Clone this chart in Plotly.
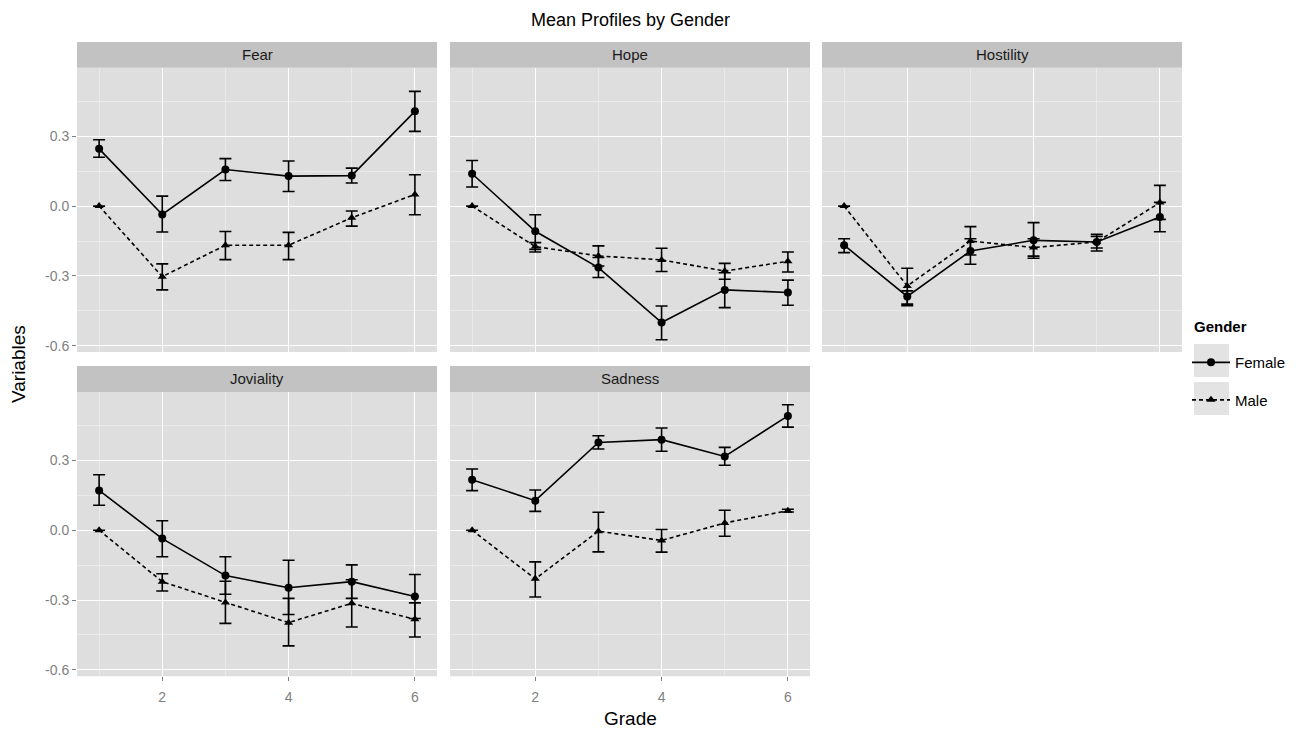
import plotly.graph_objects as go

W, H = 1296, 733
OFF = 8  # page body margin in the browser

grades = [1, 2, 3, 4, 5, 6]
panels = ["Fear", "Hope", "Hostility", "Joviality", "Sadness"]

fear_f = [0.246, -0.036, 0.157, 0.129, 0.131, 0.407]
fear_f_hi = [0.285, 0.043, 0.204, 0.194, 0.163, 0.493]
fear_f_lo = [0.210, -0.111, 0.110, 0.063, 0.099, 0.321]
fear_m = [0.0, -0.303, -0.168, -0.168, -0.050, 0.050]
fear_m_hi = [0.0, -0.248, -0.109, -0.113, -0.021, 0.135]
fear_m_lo = [0.0, -0.360, -0.230, -0.230, -0.086, -0.037]

hope_f = [0.139, -0.108, -0.264, -0.500, -0.360, -0.371]
hope_f_hi = [0.196, -0.037, -0.221, -0.429, -0.286, -0.318]
hope_f_lo = [0.082, -0.186, -0.307, -0.574, -0.436, -0.426]
hope_m = [0.0, -0.174, -0.214, -0.231, -0.279, -0.237]
hope_m_hi = [0.0, -0.157, -0.171, -0.181, -0.246, -0.197]
hope_m_lo = [0.0, -0.197, -0.257, -0.281, -0.314, -0.283]

host_f = [-0.168, -0.388, -0.193, -0.147, -0.154, -0.047]
host_f_hi = [-0.140, -0.364, -0.140, -0.071, -0.121, 0.016]
host_f_lo = [-0.200, -0.428, -0.250, -0.224, -0.193, -0.110]
host_m = [0.0, -0.343, -0.150, -0.178, -0.154, 0.015]
host_m_hi = [0.0, -0.267, -0.088, -0.140, -0.130, 0.089]
host_m_lo = [0.0, -0.421, -0.210, -0.215, -0.180, -0.057]

jov_f = [0.171, -0.036, -0.195, -0.247, -0.221, -0.285]
jov_f_hi = [0.238, 0.041, -0.114, -0.129, -0.149, -0.190]
jov_f_lo = [0.107, -0.114, -0.275, -0.362, -0.293, -0.379]
jov_m = [0.0, -0.221, -0.310, -0.397, -0.314, -0.383]
jov_m_hi = [0.0, -0.187, -0.219, -0.293, -0.213, -0.312]
jov_m_lo = [0.0, -0.261, -0.400, -0.497, -0.416, -0.459]

sad_f = [0.217, 0.127, 0.377, 0.389, 0.317, 0.491]
sad_f_hi = [0.263, 0.173, 0.406, 0.439, 0.356, 0.539]
sad_f_lo = [0.170, 0.081, 0.349, 0.339, 0.279, 0.443]
sad_m = [0.0, -0.209, -0.004, -0.044, 0.031, 0.084]
sad_m_hi = [0.0, -0.136, 0.077, 0.003, 0.086, 0.090]
sad_m_lo = [0.0, -0.287, -0.093, -0.094, -0.026, 0.078]

y_ticks = [-0.6, -0.3, 0.0, 0.3]
y_tick_text = ["-0.6", "-0.3", "0.0", "0.3"]
y_minor = [-0.45, -0.15, 0.15, 0.45]
x_ticks = [2, 4, 6]
x_minor = [1, 3, 5]

data = {
    "Fear": ((fear_f, fear_f_hi, fear_f_lo), (fear_m, fear_m_hi, fear_m_lo)),
    "Hope": ((hope_f, hope_f_hi, hope_f_lo), (hope_m, hope_m_hi, hope_m_lo)),
    "Hostility": ((host_f, host_f_hi, host_f_lo), (host_m, host_m_hi, host_m_lo)),
    "Joviality": ((jov_f, jov_f_hi, jov_f_lo), (jov_m, jov_m_hi, jov_m_lo)),
    "Sadness": ((sad_f, sad_f_hi, sad_f_lo), (sad_m, sad_m_hi, sad_m_lo)),
}


def px(X):
    return (X - OFF) / W


def py(Y):
    return 1 - (Y - OFF) / H


cols_px = [(77, 437), (450, 810), (822, 1182)]
rows_px = [(68, 353), (393, 678)]   # panel top, bottom
strip_h = 26

FONT = "Liberation Sans, Arial, sans-serif"
BG = "#DEDEDE"
STRIP = "#C2C2C2"
TICKC = "#7F7F7F"

fig = go.Figure()
shapes = []
annotations = []
layout_axes = {}

for i, name in enumerate(panels):
    r, c = divmod(i, 3)
    x0, x1 = cols_px[c]
    t, b = rows_px[r]
    idx = i + 1
    xa = "x" if idx == 1 else f"x{idx}"
    ya = "y" if idx == 1 else f"y{idx}"
    xk = "xaxis" if idx == 1 else f"xaxis{idx}"
    yk = "yaxis" if idx == 1 else f"yaxis{idx}"
    show_x = r == 1
    show_y = c == 0
    layout_axes[xk] = dict(
        domain=[px(x0), px(x1)], anchor=ya, range=[0.65, 6.35],
        tickvals=x_ticks, ticktext=[str(v) for v in x_ticks],
        showticklabels=show_x, ticks="outside" if show_x else "",
        ticklen=4, tickwidth=1, tickcolor=TICKC, ticklabelstandoff=4,
        tickfont=dict(family=FONT, size=14, color=TICKC),
        showgrid=True, gridcolor="white", gridwidth=1.4,
        minor=dict(tickvals=x_minor, showgrid=True, gridcolor="#EAEAEA", gridwidth=0.8, ticks=""),
        zeroline=False, showline=False, fixedrange=True,
    )
    layout_axes[yk] = dict(
        domain=[py(b), py(t)], anchor=xa, range=[-0.627, 0.594],
        tickvals=y_ticks, ticktext=y_tick_text,
        showticklabels=show_y, ticks="outside" if show_y else "",
        ticklen=4, tickwidth=1, tickcolor=TICKC,
        tickfont=dict(family=FONT, size=14, color=TICKC),
        showgrid=True, gridcolor="white", gridwidth=1.4,
        minor=dict(tickvals=y_minor, showgrid=True, gridcolor="#EAEAEA", gridwidth=0.8, ticks=""),
        zeroline=False, showline=False, fixedrange=True,
    )
    shapes.append(dict(type="rect", xref="paper", yref="paper",
                       x0=px(x0), x1=px(x1), y0=py(b), y1=py(t),
                       fillcolor=BG, line=dict(width=0), layer="below"))
    shapes.append(dict(type="rect", xref="paper", yref="paper",
                       x0=px(x0), x1=px(x1), y0=py(t), y1=py(t - strip_h),
                       fillcolor=STRIP, line=dict(width=0), layer="below"))
    annotations.append(dict(text=name, xref="paper", yref="paper",
                            x=px((x0 + x1) / 2), y=py(t - strip_h / 2),
                            xanchor="center", yanchor="middle", showarrow=False,
                            font=dict(family=FONT, size=15, color="#1A1A1A")))

    (fm, fhi, flo), (mm, mhi, mlo) = data[name]
    for label, mean, hi, lo, sym, dash in (
        ("Female", fm, fhi, flo, "circle", "solid"),
        ("Male", mm, mhi, mlo, "triangle-up", "4px,3px"),
    ):
        fig.add_trace(go.Scatter(
            x=grades, y=mean, xaxis=xa, yaxis=ya,
            mode="lines+markers", name=label, legendgroup=label,
            showlegend=(i == 0),
            line=dict(color="black", width=1.6, dash=dash),
            marker=dict(symbol=sym, size=8, color="black"),
            error_y=dict(type="data", symmetric=False,
                         array=[h - m for h, m in zip(hi, mean)],
                         arrayminus=[m - l for m, l in zip(mean, lo)],
                         color="black", thickness=1.6, width=6),
        ))

annotations.append(dict(text="Mean Profiles by Gender", xref="paper", yref="paper",
                        x=px(630), y=py(20), xanchor="center", yanchor="middle",
                        showarrow=False, font=dict(family=FONT, size=18, color="black")))
annotations.append(dict(text="Grade", xref="paper", yref="paper",
                        x=px(630), y=py(720), xanchor="center", yanchor="middle",
                        showarrow=False, font=dict(family=FONT, size=19, color="black")))
annotations.append(dict(text="Variables", xref="paper", yref="paper",
                        x=px(18), y=py(365), xanchor="center", yanchor="middle",
                        textangle=-90, showarrow=False,
                        font=dict(family=FONT, size=19, color="black")))
annotations.append(dict(text="<b>Gender</b>", xref="paper", yref="paper",
                        x=px(1192), y=py(327), xanchor="left", yanchor="middle",
                        showarrow=False, font=dict(family=FONT, size=15, color="black")))

for ky in (345, 383):
    shapes.append(dict(type="rect", xref="paper", yref="paper",
                       x0=px(1194), x1=px(1229), y0=py(ky + 33), y1=py(ky),
                       fillcolor="#E3E3E3", line=dict(width=0), layer="below"))

fig.update_layout(
    width=W, height=H,
    margin=dict(l=0, r=0, t=0, b=0),
    paper_bgcolor="white", plot_bgcolor="rgba(0,0,0,0)",
    shapes=shapes, annotations=annotations,
    showlegend=True,
    legend=dict(x=px(1187), y=py(347), xanchor="left", yanchor="top",
                font=dict(family=FONT, size=15, color="black"),
                bgcolor="rgba(0,0,0,0)", tracegroupgap=15, itemwidth=38),
    **layout_axes,
)

fig.write_html("out.html")
